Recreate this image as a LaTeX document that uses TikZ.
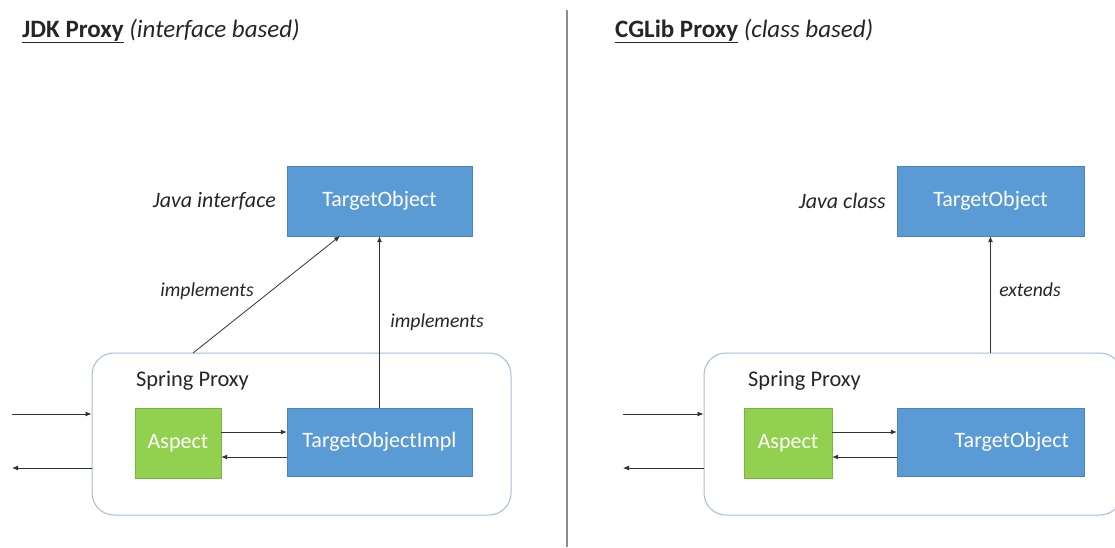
\documentclass[tikz,border=0pt]{standalone}
\usepackage{fontspec}
\setmainfont{Carlito}
\usetikzlibrary{arrows.meta}
\definecolor{boxblue}{HTML}{5B9BD5}
\definecolor{boxgreen}{HTML}{92D050}
\definecolor{frame}{HTML}{A3BDD8}
\definecolor{txt}{HTML}{262626}
\begin{document}
\begin{tikzpicture}[x=1pt,y=-1pt,
  bluebox/.style={draw=boxblue!85!black,line width=0.4pt,fill=boxblue,text=white,inner sep=0pt,font=\fontsize{22}{26}\selectfont},
  greenbox/.style={draw=boxgreen!85!black,line width=0.4pt,fill=boxgreen,text=white,inner sep=0pt,font=\fontsize{22}{26}\selectfont},
  container/.style={draw=frame,line width=1pt,rounded corners=22pt,inner sep=0pt},
  lbl/.style={text=txt,inner sep=0pt,font=\fontsize{22.4}{26}\selectfont},
  ilbl/.style={text=txt,inner sep=0pt,font=\fontsize{19.7}{23}\selectfont\itshape},
  jlbl/.style={text=txt,inner sep=0pt,font=\fontsize{22}{26}\selectfont\itshape},
  title/.style={text=txt,inner sep=0pt,anchor=base west,font=\fontsize{25}{30}\selectfont},
  conn/.style={draw=black!80,line width=0.8pt,-{Latex[length=6pt,width=5pt]}}
]
\useasboundingbox (0,0) rectangle (1115,547);
% divider
\draw[draw=black!45,line width=1.2pt] (567,10) -- (567,547);
% titles
\node[title] (t1) at (22,37) {\textbf{\underline{JDK Proxy}} \textit{(interface based)}};
\node[title] (t2) at (615,37) {\textbf{\underline{CGLib Proxy}} \textit{(class based)}};

% ---------------- left ----------------
\node[container,minimum width=419pt,minimum height=162pt] (c1) at (301.5,434) {};
\node[bluebox,minimum width=185pt,minimum height=70pt] (to1) at (379.5,201) {TargetObject};
\node[jlbl,anchor=east] (ji) at (276,201) {Java interface};
\node[lbl,anchor=west] (sp1) at (136,381) {Spring Proxy};
\node[greenbox,minimum width=86pt,minimum height=70pt] (a1) at (178,443) {Aspect};
\node[bluebox,minimum width=185pt,minimum height=68pt] (toi) at (379.5,442) {TargetObjectImpl};
\coordinate (d1) at (193,353);
\coordinate (d1t) at (340,236);
\draw[conn] (d1) -- (d1t);
\draw[conn] (toi.north) -- (to1.south);
\node[ilbl] (im1) at (207,291) {implements};
\node[ilbl] (im2) at (437,322) {implements};
\draw[conn] (a1.east |- 0,432) -- (toi.west |- 0,432);
\draw[conn] (toi.west |- 0,457) -- (a1.east |- 0,457);
\coordinate (in1) at (12,414);
\coordinate (out1) at (12,468);
\draw[conn] (in1) -- (c1.west |- in1);
\draw[conn] (c1.west |- out1) -- (out1);

% ---------------- right ----------------
\node[container,minimum width=418pt,minimum height=162pt] (c2) at (913,434) {};
\node[bluebox,minimum width=187pt,minimum height=70pt] (to2) at (990.5,201) {TargetObject};
\node[jlbl,anchor=east] (jc) at (886,201) {Java class};
\node[lbl,anchor=west] (sp2) at (748,381) {Spring Proxy};
\node[greenbox,minimum width=88pt,minimum height=70pt] (a2) at (788,443) {Aspect};
\node[bluebox,minimum width=187pt,minimum height=68pt,text width=157pt,align=right] (to3) at (990.5,442) {TargetObject};
\draw[conn] (to3.north |- c2.north) -- (to2.south);
\node[ilbl] (ex) at (1030,290) {extends};
\draw[conn] (a2.east |- 0,432) -- (to3.west |- 0,432);
\draw[conn] (to3.west |- 0,457) -- (a2.east |- 0,457);
\coordinate (in2) at (623,414);
\coordinate (out2) at (623,468);
\draw[conn] (in2) -- (c2.west |- in2);
\draw[conn] (c2.west |- out2) -- (out2);
\end{tikzpicture}
\end{document}
